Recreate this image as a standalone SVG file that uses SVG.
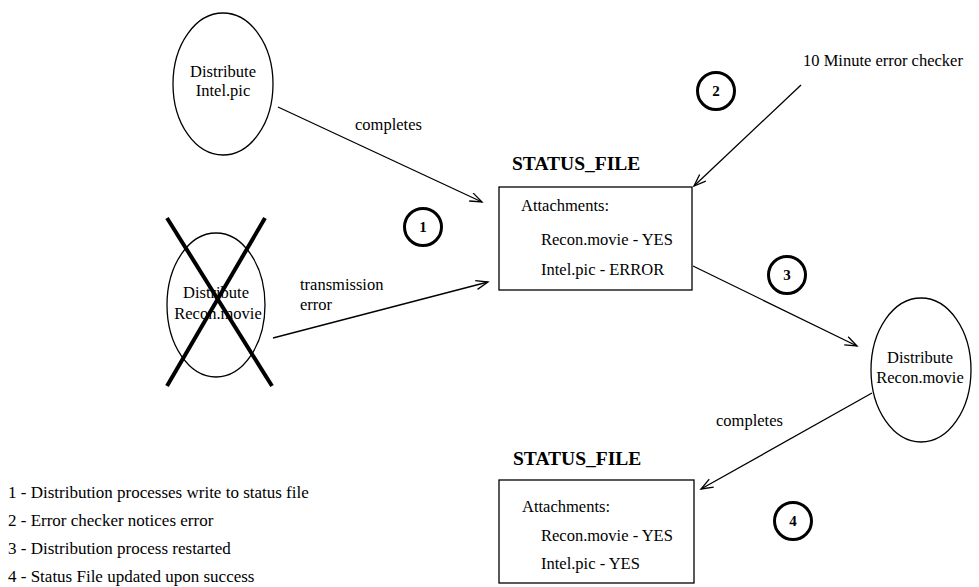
<svg xmlns="http://www.w3.org/2000/svg" width="979" height="587" viewBox="0 0 979 587">
<defs>
<style>
.t{font-family:"Liberation Serif","Times New Roman",serif;font-size:16.5px;fill:#000}
.leg{font-family:"Liberation Serif","Times New Roman",serif;font-size:17px;fill:#000}
.b{font-family:"Liberation Serif","Times New Roman",serif;font-size:19.5px;font-weight:bold;fill:#000}
.num{font-family:"Liberation Serif","Times New Roman",serif;font-size:15px;font-weight:bold;fill:#000;text-anchor:middle}
.shape{fill:#fff;stroke:#000;stroke-width:1.3}
.circ{fill:none;stroke:#000;stroke-width:3}
.edge{fill:none;stroke:#000;stroke-width:1.3}
.cross{stroke:#000;stroke-width:4;stroke-linecap:butt}
.mid{text-anchor:middle}
</style>
<marker id="arr" markerUnits="userSpaceOnUse" markerWidth="16" markerHeight="12" refX="13" refY="5" orient="auto">
<path d="M1,0.5 L13,5 L1,9.5" fill="none" stroke="#000" stroke-width="1.3"/>
</marker>
</defs>
<rect width="979" height="587" fill="#fff"/>

<g id="connectors">
<line class="edge" x1="278" y1="107" x2="482" y2="202" marker-end="url(#arr)"/>
<line class="edge" x1="273" y1="338" x2="488" y2="282" marker-end="url(#arr)"/>
<line class="edge" x1="801" y1="85" x2="694" y2="186" marker-end="url(#arr)"/>
<line class="edge" x1="693" y1="266" x2="857" y2="346" marker-end="url(#arr)"/>
<line class="edge" x1="872" y1="393" x2="701" y2="489" marker-end="url(#arr)"/>
<text class="t" x="355" y="130">completes</text>
<text class="t" x="300" y="290">transmission</text>
<text class="t" x="300" y="310">error</text>
<text class="t" x="716" y="426">completes</text>
</g>

<g id="node-intel">
<ellipse class="shape" cx="223" cy="84" rx="50" ry="71"/>
<text class="t mid" x="223" y="77">Distribute</text>
<text class="t mid" x="223" y="96">Intel.pic</text>
</g>

<g id="node-recon-failed">
<ellipse class="shape" cx="216" cy="305" rx="49" ry="72"/>
<text class="t mid" x="216" y="298">Distribute</text>
<text class="t mid" x="218" y="319">Recon.movie</text>
<line class="cross" x1="167" y1="218" x2="272" y2="386"/>
<line class="cross" x1="265" y1="218" x2="167" y2="386"/>
</g>

<g id="node-checker">
<text class="t" x="803" y="66">10 Minute error checker</text>
</g>

<g id="status-file-1">
<text class="b" x="512" y="170">STATUS_FILE</text>
<rect class="shape" x="499" y="187" width="193" height="103"/>
<text class="t" x="521" y="211">Attachments:</text>
<text class="t" x="541" y="245">Recon.movie - YES</text>
<text class="t" x="541" y="275">Intel.pic - ERROR</text>
</g>

<g id="node-recon">
<ellipse class="shape" cx="921" cy="370" rx="50" ry="72"/>
<text class="t mid" x="920" y="363">Distribute</text>
<text class="t mid" x="920" y="383">Recon.movie</text>
</g>

<g id="status-file-2">
<text class="b" x="513" y="465">STATUS_FILE</text>
<rect class="shape" x="499" y="480" width="195" height="103"/>
<text class="t" x="522" y="512">Attachments:</text>
<text class="t" x="541" y="541">Recon.movie - YES</text>
<text class="t" x="541" y="569">Intel.pic - YES</text>
</g>

<g id="step-1">
<circle class="circ" cx="423" cy="227" r="18.5"/>
<text class="num" x="423" y="232">1</text>
</g>
<g id="step-2">
<circle class="circ" cx="716" cy="91" r="18.5"/>
<text class="num" x="716" y="96">2</text>
</g>
<g id="step-3">
<circle class="circ" cx="787" cy="275" r="18.5"/>
<text class="num" x="787" y="280">3</text>
</g>
<g id="step-4">
<circle class="circ" cx="793" cy="521" r="18.5"/>
<text class="num" x="793" y="526">4</text>
</g>

<g id="legend">
<text class="leg" x="8" y="498">1 - Distribution processes write to status file</text>
<text class="leg" x="8" y="526">2 - Error checker notices error</text>
<text class="leg" x="8" y="554">3 - Distribution process restarted</text>
<text class="leg" x="8" y="582">4 - Status File updated upon success</text>
</g>
</svg>
